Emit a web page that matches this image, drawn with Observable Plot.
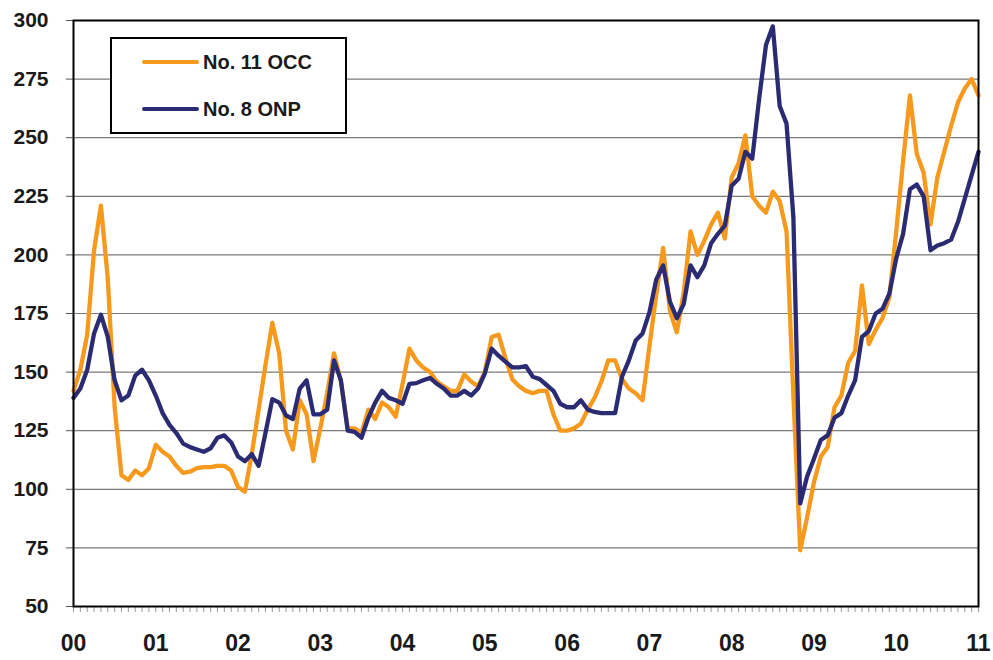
<!DOCTYPE html>
<html><head><meta charset="utf-8">
<script src="https://cdn.jsdelivr.net/npm/d3@7"></script>
<script src="https://cdn.jsdelivr.net/npm/@observablehq/plot@0.6"></script>
<style>body{margin:0;background:#fff} #chart{width:993px;height:660px;position:relative}</style>
</head><body><div id="chart"></div>
<script>
const seriesNames = ["No. 11 OCC", "No. 8 ONP"];
const seriesColors = ["#F7991C", "#2B2B73"];
const yearLabels = ["00","01","02","03","04","05","06","07","08","09","10","11"];
const yTicks = [50, 75, 100, 125, 150, 175, 200, 225, 250, 275, 300];

// Monthly values, Jan 2000 .. Jan 2011
const occ = [
 142,151,166,202,221,190,135,106,104,108,106,109,
 119,116,114,110,107,107.5,109,109.5,109.5,110,110,108,
 101,99,115,134,153,171,158,125,117,138,132,112,
 126,141,158,146,126,126,124,134,130,137,135,131,
 145,160,155,152,150,146,144,142,142,149,146,144,
 150,165,166,156,147,144,142,141,142,142,132,125,
 125,126,128,134,139,146,155,155,147,143,141,138,
 161,183,203,176,167,184,210,200,206,213,218,207,
 233,239,251,225,221,218,227,223,210,140,74,88,
 103,114,118,135,140,154,159,187,162,168,173,182,
 210,240,268,243,235,213,233,244,255,265,271,275,
 268
];
const onp = [
 139,143,151,166.5,174.5,165,146.5,138,140,148.5,151,146.5,
 140,132.5,127.5,124,119.5,118,117,116,117.5,122,123,120,
 114,112,115,110,124,138.5,137,131.5,130,143,146.5,132,
 132,134,155,146.5,125,124.5,122,130.5,137,142,139,138,
 136.5,145,145.3,146.5,147.5,145,143,140,140,142,140,143,
 149.5,160,157,154.5,152,152,152.5,148,147,144.5,142,136.5,
 135,135,138,134,133,132.5,132.5,132.5,148,155,163.5,166.5,
 175.5,189.5,195.5,180,173,179,195.5,190.5,195.5,205,209,212.5,
 229.5,232.5,244,241,266.5,289.5,297.5,263.5,256,216,94,105.5,
 113,121,123,130.5,132.5,140,146.5,165,167.5,175,177,183.5,
 198.5,209,228,230,225,202,204,205,206.5,214,224,234,
 244
];

const rows = [];
occ.forEach((v, i) => rows.push({m: i, v, s: seriesNames[0]}));
onp.forEach((v, i) => rows.push({m: i, v, s: seriesNames[1]}));
const lastMonth = occ.length - 1;

const chart = Plot.plot({
  width: 993, height: 660,
  marginLeft: 73, marginRight: 15, marginTop: 20, marginBottom: 54,
  x: {domain: [0, lastMonth]},
  y: {domain: [50, 300]},
  color: {domain: seriesNames, range: seriesColors},
  style: {fontFamily: "'Liberation Sans', Arial, sans-serif", fontWeight: "bold", color: "#1a1a1a", background: "#fff"},
  marks: [
    Plot.gridY(yTicks, {stroke: "#7a7a7a", strokeOpacity: 1, strokeWidth: 1.2}),
    Plot.axisY(yTicks, {tickSize: 7, tickPadding: 18, fontSize: 21, stroke: "#555", label: null}),
    Plot.axisX(d3.range(0, lastMonth + 1), {tickSize: 6, tickFormat: () => "", stroke: "#999", label: null}),
    Plot.axisX(d3.range(0, lastMonth + 1, 12), {tickSize: 0, tickPadding: 28, fontSize: 23, tickFormat: d => yearLabels[d / 12], label: null}),
    Plot.line(rows, {x: "m", y: "v", z: "s", stroke: "s", strokeWidth: 4.3, strokeLinejoin: "round", strokeLinecap: "round"}),
    Plot.frame({stroke: "#000", strokeWidth: 2})
  ]
});
document.getElementById("chart").appendChild(chart);

// Legend inside the plot area
const svg = d3.select(chart);
const lg = svg.append("g");
lg.append("rect").attr("x", 111).attr("y", 38).attr("width", 235).attr("height", 95)
  .attr("fill", "#fff").attr("stroke", "#000").attr("stroke-width", 2);
seriesNames.forEach((name, i) => {
  const y = 62 + i * 47;
  lg.append("line").attr("x1", 144).attr("x2", 197).attr("y1", y).attr("y2", y)
    .attr("stroke", seriesColors[i]).attr("stroke-width", 4).attr("stroke-linecap", "round");
  lg.append("text").attr("x", 203).attr("y", y).attr("dy", "0.36em")
    .attr("text-anchor", "start")
    .attr("font-size", 20).attr("font-weight", "bold").attr("fill", "#1a1a1a")
    .attr("font-family", "'Liberation Sans', Arial, sans-serif").text(name);
});
</script>
</body></html>
